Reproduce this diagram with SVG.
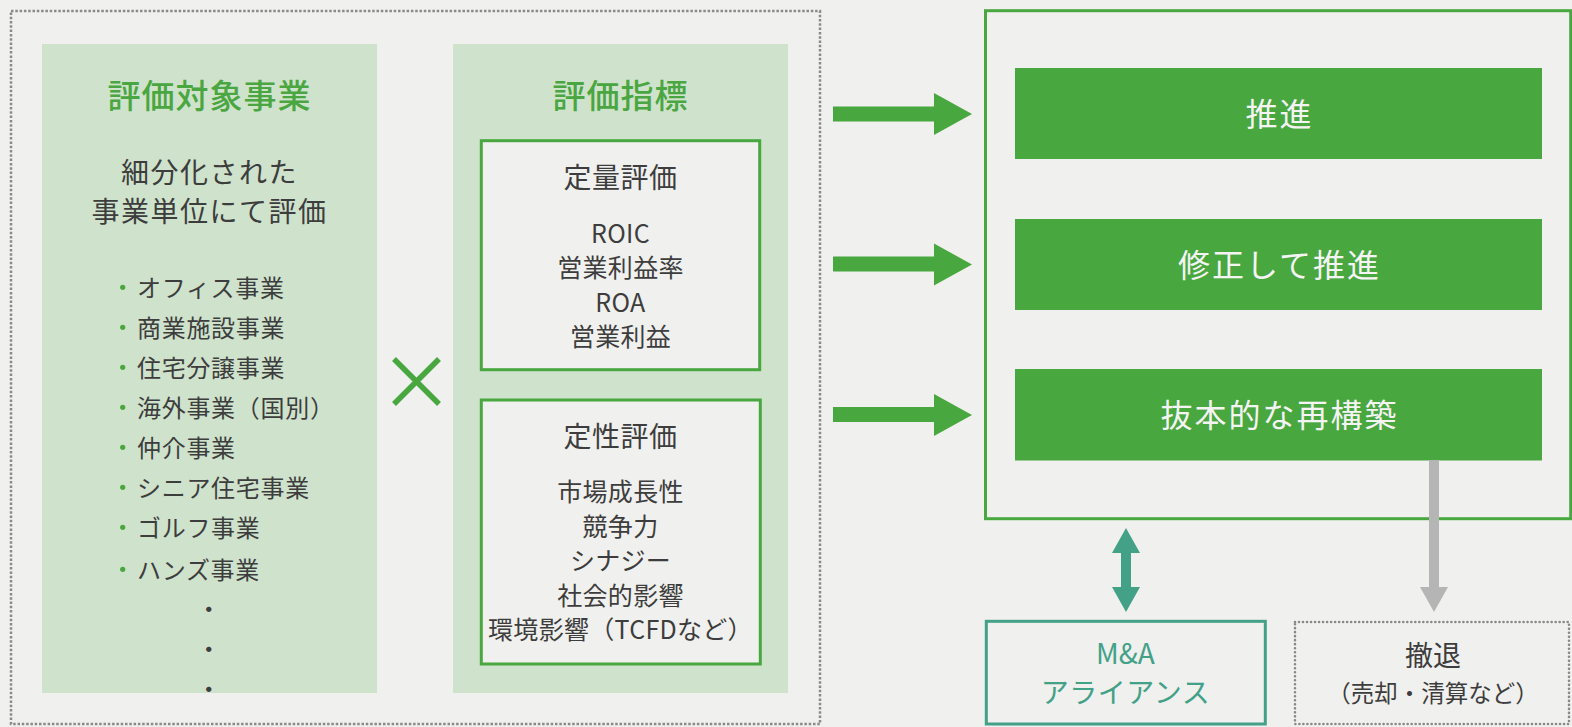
<svg xmlns="http://www.w3.org/2000/svg" width="1572" height="727" viewBox="0 0 1572 727">
<style>
text{font-family:"Noto Sans CJK JP","Noto Sans",sans-serif;fill:#3d3d3d;text-anchor:middle}
.title{font-size:33px;fill:#4aa640;font-weight:500;letter-spacing:1px}
.sub{font-size:28px;letter-spacing:1.5px}
.item{font-size:24px;letter-spacing:0.7px;text-anchor:start}
.met{font-size:25px;letter-spacing:0.3px}
.head{font-size:28px;letter-spacing:0.5px}
.bar{fill:#49a73f}
.bartxt{font-size:32px;fill:#f4f4f4;letter-spacing:2px}
.panel{fill:#cfe2cc}
.gbox{fill:#f0f0ee;stroke:#49a73f;stroke-width:3}
.dot{fill:#49a73f}
</style>
<rect width="1572" height="727" fill="#f0f0ee"/>
<g id="frame">
<rect x="11" y="11" width="809" height="713" fill="none" stroke="#8a8a8a" stroke-width="2.5" stroke-dasharray="2.5 1.8"/>
</g>
<g id="target-business">
<rect class="panel" x="42" y="44" width="335" height="649"/>
<text class="title" x="209.5" y="108">評価対象事業</text>
<text class="sub" x="209.5" y="182.5">細分化された</text>
<text class="sub" x="209.5" y="222">事業単位にて評価</text>
<circle class="dot" cx="122.7" cy="287.3" r="2.6"/>
<circle class="dot" cx="122.7" cy="327.3" r="2.6"/>
<circle class="dot" cx="122.7" cy="367.3" r="2.6"/>
<circle class="dot" cx="122.7" cy="407.3" r="2.6"/>
<circle class="dot" cx="122.7" cy="447.3" r="2.6"/>
<circle class="dot" cx="122.7" cy="487.3" r="2.6"/>
<circle class="dot" cx="122.7" cy="527.3" r="2.6"/>
<circle class="dot" cx="122.7" cy="569.3" r="2.6"/>
<text class="item" x="137" y="297">オフィス事業</text>
<text class="item" x="137" y="337">商業施設事業</text>
<text class="item" x="137" y="377">住宅分譲事業</text>
<text class="item" x="137" y="417">海外事業（国別）</text>
<text class="item" x="137" y="457">仲介事業</text>
<text class="item" x="137" y="497">シニア住宅事業</text>
<text class="item" x="137" y="537">ゴルフ事業</text>
<text class="item" x="137" y="579">ハンズ事業</text>
<text class="met" x="209" y="619">・</text>
<text class="met" x="209" y="659">・</text>
<text class="met" x="209" y="699">・</text>
</g>
<g id="times">
<path d="M394,359 L439,404 M439,359 L394,404" stroke="#49a73f" stroke-width="5.5" fill="none"/>
</g>
<g id="indicators">
<rect class="panel" x="453" y="44" width="335" height="649"/>
<text class="title" x="620.5" y="108">評価指標</text>
</g>
<g id="quantitative">
<rect class="gbox" x="481.3" y="140.7" width="278.4" height="229"/>
<text class="head" x="620.5" y="188">定量評価</text>
<text class="met" x="620.5" y="242.5">ROIC</text>
<text class="met" x="620.5" y="277">営業利益率</text>
<text class="met" x="620.5" y="311.5">ROA</text>
<text class="met" x="620.5" y="346">営業利益</text>
</g>
<g id="qualitative">
<rect class="gbox" x="481.3" y="400" width="279" height="264"/>
<text class="head" x="620.5" y="447">定性評価</text>
<text class="met" x="620.5" y="501">市場成長性</text>
<text class="met" x="620.5" y="535.5">競争力</text>
<text class="met" x="620.5" y="570">シナジー</text>
<text class="met" x="620.5" y="604.5">社会的影響</text>
<text class="met" x="620.5" y="639">環境影響（TCFDなど）</text>
</g>
<g id="outcomes">
<rect x="985.5" y="10.7" width="585.2" height="508" fill="none" stroke="#49a73f" stroke-width="3"/>
</g>
<g id="promote">
<rect class="bar" x="1015" y="68" width="527" height="91"/>
<text class="bartxt" x="1279.5" y="126">推進</text>
</g>
<g id="modify">
<rect class="bar" x="1015" y="219" width="527" height="91"/>
<text class="bartxt" x="1279.5" y="276.5">修正して推進</text>
</g>
<g id="restructure">
<rect class="bar" x="1015" y="369" width="527" height="91.5"/>
<text class="bartxt" x="1279.5" y="427">抜本的な再構築</text>
</g>
<g id="ma">
<rect x="986.3" y="621.3" width="279" height="102.7" fill="none" stroke="#43a188" stroke-width="3"/>
<text x="1125.5" y="664" style="font-size:28px;fill:#43a188">M&amp;A</text>
<text x="1125.5" y="703" style="font-size:28px;fill:#43a188;letter-spacing:0.5px">アライアンス</text>
</g>
<g id="withdraw">
<rect x="1295" y="622" width="274" height="102" fill="none" stroke="#888" stroke-width="2.6" stroke-dasharray="0.01 4" stroke-linecap="round"/>
<text x="1433" y="666" style="font-size:28px">撤退</text>
<text x="1433" y="702" style="font-size:23.5px">（売却・清算など）</text>
</g>
<g id="connectors">
<path d="M833,106.5 H934 V93 L972,114 L934,135 V121.5 H833 Z" fill="#49a73f"/>
<path d="M833,256.5 H934 V243.5 L972,264.5 L934,285.5 V271.5 H833 Z" fill="#49a73f"/>
<path d="M833,407 H934 V394 L972,415 L934,436 V422 H833 Z" fill="#49a73f"/>
<path d="M1126,528 L1140,553 L1131,553 L1131,587 L1140,587 L1126,612 L1112,587 L1121,587 L1121,553 L1112,553 Z" fill="#43a188"/>
<path d="M1429,460 H1439 V587 H1448 L1434,612 L1420,587 H1429 Z" fill="#b5b5b5"/>
</g>
</svg>
